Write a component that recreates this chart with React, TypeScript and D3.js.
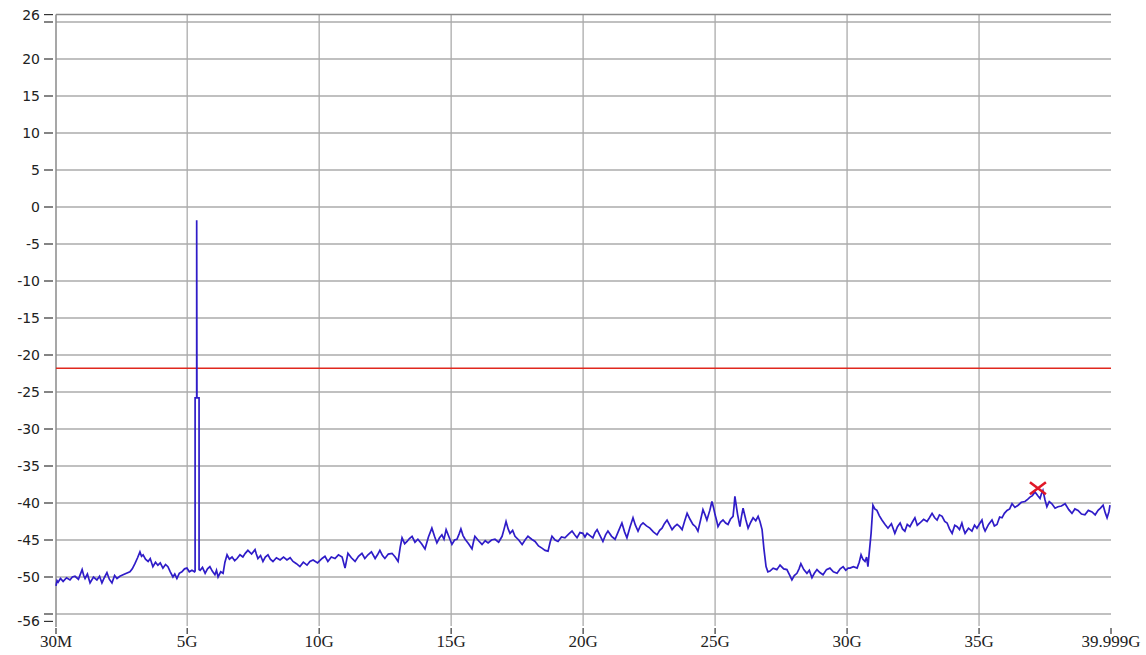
import { useEffect, useRef } from 'react'
import * as d3 from 'd3'

// sweep trace as [GHz, dBm]
const lowBand: [number, number][] = [
  [0.03, -51.2], [0.07, -50.5], [0.11, -50.7], [0.2, -50.2], [0.3, -50.6], [0.43, -50.1],
  [0.56, -50.4], [0.65, -50.0], [0.75, -49.9], [0.88, -50.3], [1.02, -49.0], [1.08, -49.8],
  [1.13, -50.2], [1.22, -49.6], [1.32, -50.8], [1.45, -50.0], [1.58, -50.4], [1.68, -49.9],
  [1.77, -50.8], [1.86, -50.1], [1.96, -49.4], [2.05, -50.3], [2.15, -50.8], [2.25, -49.8],
  [2.34, -50.2], [2.45, -49.9], [2.57, -49.7], [2.7, -49.5], [2.83, -49.3], [2.92, -48.9],
  [3.02, -48.2], [3.12, -47.4], [3.21, -46.6], [3.27, -47.2], [3.33, -47.0], [3.42, -47.6],
  [3.52, -47.9], [3.6, -47.5], [3.7, -48.6], [3.8, -48.0], [3.89, -48.4], [3.98, -48.1],
  [4.08, -48.8], [4.18, -48.3], [4.27, -48.6], [4.36, -49.3], [4.46, -50.0], [4.53, -49.6],
  [4.61, -50.2], [4.7, -49.5], [4.8, -49.3], [4.9, -48.9], [4.99, -48.8], [5.08, -49.3],
  [5.18, -49.1], [5.28, -49.3],
]

// the spur near 5.3 GHz
const spur: [number, number][] = [
  [5.3, -49.2], [5.3, -25.8], [5.36, -25.8], [5.36, -1.8], [5.37, -25.8], [5.45, -25.8], [5.45, -49.0],
]

const midBand: [number, number][] = [
  [5.49, -49.1], [5.58, -48.7], [5.68, -49.5], [5.77, -48.9], [5.86, -48.6], [5.95, -49.2],
  [6.05, -49.7], [6.11, -49.1], [6.17, -50.0], [6.27, -49.3], [6.36, -49.5], [6.43, -48.0],
  [6.51, -47.0], [6.6, -47.6], [6.7, -47.3], [6.8, -47.8], [6.89, -47.5], [7.0, -47.0],
  [7.11, -47.3], [7.2, -46.8], [7.3, -46.4], [7.44, -46.9], [7.57, -46.3], [7.62, -46.9],
  [7.68, -47.5], [7.78, -47.1], [7.87, -47.9], [7.96, -47.3], [8.06, -47.0], [8.15, -47.6],
  [8.25, -47.9], [8.38, -47.4], [8.52, -47.7], [8.65, -47.3], [8.78, -47.7], [8.9, -47.4],
  [9.01, -47.9], [9.14, -48.2], [9.27, -48.6], [9.4, -48.0], [9.54, -48.4], [9.65, -47.9],
  [9.77, -47.7], [9.94, -48.1], [10.11, -47.5], [10.22, -47.2], [10.33, -47.9], [10.46, -47.3],
  [10.6, -47.5], [10.73, -47.0], [10.87, -47.3], [10.98, -48.8], [11.09, -46.8], [11.22, -47.4],
  [11.36, -47.9], [11.49, -47.2], [11.62, -46.8], [11.73, -47.5], [11.85, -47.0], [11.98, -46.6],
  [12.12, -47.5], [12.21, -47.0], [12.3, -46.4], [12.4, -47.1], [12.49, -47.5], [12.62, -46.9],
  [12.76, -46.8], [12.88, -47.3], [12.99, -47.9], [13.07, -46.0], [13.14, -44.7], [13.24, -45.5],
  [13.33, -45.2], [13.42, -44.8], [13.52, -44.5], [13.63, -45.3], [13.74, -44.9], [13.88, -45.5],
  [14.01, -46.2], [14.14, -44.6], [14.27, -43.4], [14.37, -44.5], [14.46, -45.4], [14.56, -44.7],
  [14.65, -44.3], [14.73, -44.9], [14.81, -43.6], [14.92, -44.6], [15.03, -45.6], [15.13, -45.0],
  [15.22, -44.9], [15.3, -44.2], [15.37, -43.5], [15.45, -44.4], [15.53, -44.9], [15.66, -45.5],
  [15.79, -46.2], [15.85, -45.2], [15.9, -44.5], [16.04, -45.1], [16.17, -45.6], [16.29, -45.1],
  [16.4, -45.4], [16.53, -45.0], [16.66, -44.9], [16.8, -45.3], [16.93, -44.5], [17.0, -43.6],
  [17.08, -42.5], [17.16, -43.5], [17.23, -44.1], [17.33, -43.7], [17.42, -44.5], [17.56, -45.0],
  [17.69, -45.6], [17.8, -45.0], [17.91, -44.5], [18.05, -44.9], [18.18, -45.2], [18.31, -45.8],
  [18.44, -46.1], [18.56, -46.4], [18.67, -46.5], [18.75, -45.3], [18.82, -44.5], [18.94, -45.0],
  [19.05, -45.2], [19.18, -44.6], [19.31, -44.7], [19.45, -44.2], [19.58, -43.8], [19.68, -44.3],
  [19.77, -44.7], [19.88, -44.0], [19.99, -44.1], [20.07, -44.6], [20.15, -44.1], [20.26, -44.4],
  [20.37, -44.7], [20.45, -44.0], [20.53, -43.6], [20.64, -44.4], [20.75, -45.2], [20.85, -44.3],
  [20.94, -43.8], [21.08, -44.5], [21.21, -44.9], [21.34, -43.8], [21.47, -42.7], [21.57, -43.9],
  [21.66, -44.7], [21.78, -43.2], [21.89, -42.0], [21.98, -43.0], [22.08, -43.8], [22.18, -43.0],
  [22.27, -42.7], [22.4, -43.1], [22.53, -43.4], [22.66, -43.9], [22.8, -44.3], [22.9, -43.7],
  [22.99, -43.4], [23.08, -42.8], [23.18, -42.3], [23.28, -43.0], [23.37, -43.6], [23.46, -43.2],
  [23.56, -42.9], [23.66, -43.2], [23.75, -43.6], [23.85, -42.4], [23.94, -41.4], [24.05, -42.2],
  [24.16, -42.9], [24.26, -43.2], [24.35, -43.8], [24.45, -42.3], [24.54, -40.9], [24.62, -41.6],
  [24.69, -42.3], [24.8, -41.0], [24.88, -39.8], [24.94, -40.6], [25.0, -41.6], [25.06, -42.4],
  [25.11, -43.2], [25.2, -42.6], [25.3, -42.3], [25.4, -42.7], [25.49, -42.9], [25.58, -42.2],
  [25.68, -41.8], [25.72, -40.4], [25.75, -39.1], [25.85, -41.5], [25.94, -43.2], [26.0, -41.8],
  [26.06, -40.7], [26.16, -42.2], [26.25, -43.4], [26.35, -42.6], [26.44, -42.0], [26.54, -42.4],
  [26.63, -41.8], [26.7, -42.5], [26.78, -43.6],
]

// the dip between ~27 and ~31 GHz
const dipBand: [number, number][] = [
  [26.85, -46.2], [26.93, -48.6], [27.0, -49.3], [27.08, -49.2], [27.2, -48.8], [27.34, -49.0],
  [27.4, -48.7], [27.46, -48.4], [27.6, -48.9], [27.72, -49.0], [27.82, -49.7], [27.91, -50.4],
  [28.0, -49.8], [28.1, -49.5], [28.18, -48.9], [28.25, -48.2], [28.36, -49.0], [28.48, -49.5],
  [28.57, -49.1], [28.67, -50.1], [28.76, -49.5], [28.86, -49.0], [28.97, -49.4], [29.09, -49.7],
  [29.22, -49.0], [29.35, -48.8], [29.48, -49.3], [29.62, -49.5], [29.74, -48.9], [29.85, -48.6],
  [29.95, -49.1], [30.04, -48.8], [30.11, -48.8], [30.24, -48.6], [30.38, -48.8], [30.46, -48.0],
  [30.53, -47.0], [30.6, -47.6], [30.68, -47.9], [30.74, -47.3], [30.79, -48.6], [30.91, -44.1],
]

const highBand: [number, number][] = [
  [30.98, -40.3], [31.05, -40.8], [31.13, -41.0], [31.22, -41.7], [31.32, -42.3], [31.44, -42.9],
  [31.55, -43.4], [31.68, -42.8], [31.81, -44.1], [31.91, -43.2], [32.01, -42.7], [32.1, -43.5],
  [32.19, -43.8], [32.28, -42.9], [32.38, -43.2], [32.47, -42.6], [32.57, -42.0], [32.66, -43.0],
  [32.76, -42.7], [32.9, -42.2], [33.03, -42.5], [33.12, -42.0], [33.22, -41.4], [33.32, -42.0],
  [33.41, -42.3], [33.5, -41.6], [33.6, -41.8], [33.7, -42.5], [33.79, -42.7], [33.88, -43.5],
  [33.98, -44.1], [34.08, -43.0], [34.17, -43.2], [34.26, -43.6], [34.35, -42.7], [34.41, -43.5],
  [34.47, -44.1], [34.6, -43.4], [34.73, -43.8], [34.83, -43.0], [34.92, -43.4], [35.02, -42.8],
  [35.11, -42.3], [35.17, -43.3], [35.23, -43.8], [35.36, -42.9], [35.49, -42.3], [35.58, -43.1],
  [35.68, -42.9], [35.78, -41.9], [35.87, -42.0], [35.96, -41.4], [36.06, -41.0], [36.16, -40.8],
  [36.25, -40.1], [36.36, -40.6], [36.48, -40.3], [36.6, -39.9], [36.74, -39.8], [36.84, -39.5],
  [36.93, -39.2], [37.02, -39.0], [37.12, -38.5], [37.22, -39.0], [37.31, -39.4], [37.36, -38.8],
  [37.42, -38.3], [37.5, -39.6], [37.57, -40.5], [37.66, -39.8], [37.76, -40.1], [37.88, -40.7],
  [37.99, -40.5], [38.12, -40.4], [38.26, -40.1], [38.4, -40.9], [38.52, -41.4], [38.63, -40.8],
  [38.75, -41.0], [38.88, -41.5], [39.01, -41.6], [39.14, -41.0], [39.28, -41.2], [39.4, -41.6],
  [39.51, -41.0], [39.6, -40.7], [39.7, -40.3], [39.78, -41.3], [39.85, -42.0], [39.92, -41.2],
  [39.96, -40.3],
]

const limitLine = -21.8
const peakMarker: [number, number] = [37.23, -38.0]

const yTickLabels = [26, 20, 15, 10, 5, 0, -5, -10, -15, -20, -25, -30, -35, -40, -45, -50, -56]
const yTickMarks = [26, 25, 20, 15, 10, 5, 0, -5, -10, -15, -20, -25, -30, -35, -40, -45, -50, -55, -56]
const yGrid = [25, 20, 15, 10, 5, 0, -5, -10, -15, -20, -25, -30, -35, -40, -45, -50, -55]
const xTicks = [0.03, 5, 10, 15, 20, 25, 30, 35, 39.999]
const xTickLabels = ['30M', '5G', '10G', '15G', '20G', '25G', '30G', '35G', '39.999G']
const xGrid = [5, 10, 15, 20, 25, 30, 35]

const W = 1146
const H = 655

export default function App() {
  const svgRef = useRef<SVGSVGElement>(null)

  useEffect(() => {
    if (!svgRef.current) return
    const svg = d3.select(svgRef.current)
    svg.selectAll('*').remove()

    const x = d3.scaleLinear().domain([0.03, 39.999]).range([56, 1111])
    const y = d3.scaleLinear().domain([-56, 26]).range([621.4, 14.6])

    svg.append('rect').attr('width', W).attr('height', H).attr('fill', '#fff')

    const grid = svg.append('g')
    // horizontal grid
    grid.selectAll('line.h')
      .data(yGrid)
      .enter()
      .append('line')
      .attr('x1', 56).attr('x2', 1111)
      .attr('y1', (d) => y(d)).attr('y2', (d) => y(d))
      .attr('stroke', '#ababab').attr('stroke-width', 1.3)
    // vertical grid
    grid.selectAll('line.v')
      .data(xGrid)
      .enter()
      .append('line')
      .attr('x1', (d) => x(d)).attr('x2', (d) => x(d))
      .attr('y1', y(26)).attr('y2', 626)
      .attr('stroke', '#ababab').attr('stroke-width', 1.3)

    // top border + left axis
    svg.append('line')
      .attr('x1', 56).attr('x2', 1111).attr('y1', y(26)).attr('y2', y(26))
      .attr('stroke', '#8a8a8a').attr('stroke-width', 1.5)
    svg.append('line')
      .attr('x1', 56).attr('x2', 56).attr('y1', y(26)).attr('y2', 627)
      .attr('stroke', '#8a8a8a').attr('stroke-width', 1.5)

    // y ticks
    svg.append('g').selectAll('line')
      .data(yTickMarks)
      .enter()
      .append('line')
      .attr('x1', 44).attr('x2', 53)
      .attr('y1', (d) => y(d)).attr('y2', (d) => y(d))
      .attr('stroke', '#333').attr('stroke-width', 1.2)
    svg.append('g').selectAll('text')
      .data(yTickLabels)
      .enter()
      .append('text')
      .attr('x', 40)
      .attr('y', (d) => y(d))
      .attr('dy', '0.36em')
      .attr('text-anchor', 'end')
      .attr('font-family', 'DejaVu Sans, sans-serif')
      .attr('font-size', 14)
      .attr('fill', '#222')
      .text((d) => String(d))

    // x ticks
    svg.append('g').selectAll('line')
      .data(xTicks)
      .enter()
      .append('line')
      .attr('x1', (d) => x(d)).attr('x2', (d) => x(d))
      .attr('y1', 628).attr('y2', 634)
      .attr('stroke', '#333').attr('stroke-width', 1.2)
    svg.append('g').selectAll('text')
      .data(xTicks)
      .enter()
      .append('text')
      .attr('x', (d) => x(d))
      .attr('y', 647)
      .attr('text-anchor', 'middle')
      .attr('font-family', 'Liberation Serif, serif')
      .attr('font-size', 17)
      .attr('fill', '#222')
      .text((_, i) => xTickLabels[i])

    // limit line
    svg.append('line')
      .attr('x1', 56).attr('x2', 1111)
      .attr('y1', y(limitLine)).attr('y2', y(limitLine))
      .attr('stroke', '#e0281e').attr('stroke-width', 1.4)

    // trace
    const trace = [...lowBand, ...spur, ...midBand, ...dipBand, ...highBand]
    const line = d3.line<[number, number]>()
      .x((d) => x(d[0]))
      .y((d) => y(d[1]))
    svg.append('path')
      .datum(trace)
      .attr('d', line)
      .attr('fill', 'none')
      .attr('stroke', '#2f1cc8')
      .attr('stroke-width', 1.7)
      .attr('stroke-linejoin', 'miter')

    // peak marker
    const mx = x(peakMarker[0])
    const my = y(peakMarker[1])
    const s = 8
    svg.append('path')
      .attr('d', `M${mx - s},${my - s * 0.75}L${mx + s},${my + s * 0.75}M${mx + s},${my - s * 0.75}L${mx - s},${my + s * 0.75}`)
      .attr('stroke', '#e01828')
      .attr('stroke-width', 2.6)
      .attr('fill', 'none')
  }, [])

  return (
    <div style={{ position: 'absolute', left: 0, top: 0 }}>
      <svg ref={svgRef} width={W} height={H} style={{ display: 'block' }} />
    </div>
  )
}
